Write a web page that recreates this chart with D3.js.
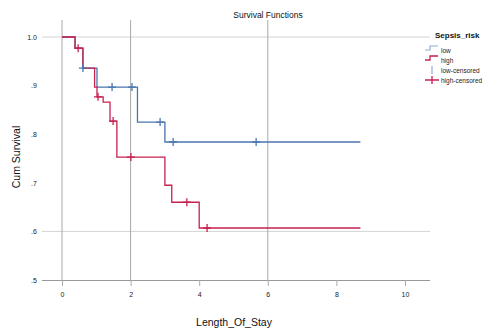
<!DOCTYPE html>
<html>
<head>
<meta charset="utf-8">
<script src="https://cdn.jsdelivr.net/npm/d3@7"></script>
<style>
  body { margin: 0; background: #fff; }
  text { font-family: "Liberation Sans", Arial, sans-serif; }
</style>
</head>
<body>
<div class="chart"></div>
<script>
// step curves: [time, cumulative survival]
var lowSteps = [[0, 1.0], [0.38, 0.977], [0.61, 0.936], [1.02, 0.897], [2.2, 0.825], [3.0, 0.784], [8.7, 0.784]];
var highSteps = [[0, 1.0], [0.38, 0.977], [0.61, 0.936], [0.95, 0.897], [1.02, 0.877], [1.2, 0.866], [1.4, 0.827], [1.6, 0.753], [3.0, 0.695], [3.2, 0.66], [4.0, 0.607], [8.7, 0.607]];
var lowCensored = [[0.61, 0.936], [1.46, 0.897], [2.04, 0.897], [2.86, 0.825], [3.24, 0.784], [5.66, 0.784]];
var highCensored = [[0.47, 0.977], [1.05, 0.877], [1.49, 0.827], [2.01, 0.753], [3.64, 0.66], [4.23, 0.607]];
var xTicks = [0, 2, 4, 6, 8, 10];
var yTicks = [1.0, 0.9, 0.8, 0.7, 0.6, 0.5];
var refX = [0, 2, 6];
var refY = [1.0, 0.6];
var legendLabels = ["low", "high", "low-censored", "high-censored"];

var width = 498, height = 334;
var blue = "#4a76b0", red = "#c8204f";

var svg = d3.select(".chart").append("svg")
  .attr("width", width)
  .attr("height", height);

var xScale = d3.scaleLinear().domain([0, 10]).range([62, 405]);
var yScale = d3.scaleLinear().domain([0.5, 1.0]).range([280, 37]);

// reference lines
svg.selectAll(".refy").data(refY).enter().append("line")
  .attr("x1", 42).attr("x2", 430)
  .attr("y1", d => yScale(d)).attr("y2", d => yScale(d))
  .attr("stroke", "#d4d4d4").attr("stroke-width", 1);

svg.selectAll(".refx").data(refX).enter().append("line")
  .attr("x1", d => xScale(d)).attr("x2", d => xScale(d))
  .attr("y1", 20).attr("y2", 280)
  .attr("stroke", "#a8a8a8").attr("stroke-width", 1);

// axes
var xAxis = svg.append("g")
  .attr("transform", "translate(0,280)")
  .call(d3.axisBottom(xScale).tickValues(xTicks).tickSize(6).tickFormat(d3.format("d")));
xAxis.select(".domain").attr("d", "M42,0.5H430").attr("stroke", "#999");
xAxis.selectAll(".tick line").attr("stroke", "#aaa");
xAxis.selectAll("text").attr("font-size", 7).attr("fill", "#222").attr("dy", "1.2em");

var yAxis = svg.append("g")
  .attr("transform", "translate(42,0)")
  .call(d3.axisLeft(yScale).tickValues(yTicks).tickSize(0)
    .tickFormat(d => d === 1 ? "1.0" : d3.format(".1f")(d).replace(/^0/, "")));
yAxis.select(".domain").remove();
yAxis.selectAll("text").attr("font-size", 7).attr("fill", "#222").attr("dx", "-0.3em");

// curves
var step = d3.line()
  .x(d => xScale(d[0]))
  .y(d => yScale(d[1]))
  .curve(d3.curveStepAfter);

svg.append("path").datum(lowSteps)
  .attr("d", step).attr("fill", "none").attr("stroke", blue).attr("stroke-width", 1.3);
svg.append("path").datum(highSteps)
  .attr("d", step).attr("fill", "none").attr("stroke", red).attr("stroke-width", 1.3);

function cross(sel, color) {
  sel.append("path")
    .attr("d", "M-4,0H4M0,-4V4")
    .attr("stroke", color).attr("stroke-width", 1.3);
}
svg.selectAll(".lc").data(lowCensored).enter().append("g")
  .attr("transform", d => "translate(" + xScale(d[0]) + "," + yScale(d[1]) + ")")
  .call(cross, blue);
svg.selectAll(".hc").data(highCensored).enter().append("g")
  .attr("transform", d => "translate(" + xScale(d[0]) + "," + yScale(d[1]) + ")")
  .call(cross, red);

// titles
svg.append("text").attr("x", 268).attr("y", 18).attr("text-anchor", "middle")
  .attr("font-size", 8.5).attr("fill", "#111").text("Survival Functions");
svg.append("text").attr("x", 234).attr("y", 326).attr("text-anchor", "middle")
  .attr("font-size", 10.5).attr("fill", "#111").text("Length_Of_Stay");
svg.append("text").attr("transform", "translate(20,157) rotate(-90)").attr("text-anchor", "middle")
  .attr("font-size", 10.5).attr("fill", "#111").text("Cum Survival");

// legend
var lg = svg.append("g").attr("transform", "translate(425,0)");
lg.append("text").attr("x", 10).attr("y", 38).attr("font-size", 8).attr("font-weight", "bold")
  .attr("fill", "#111").text("Sepsis_risk");
var rowY = [50, 60, 70, 80];
lg.selectAll(".lt").data(legendLabels).enter().append("text")
  .attr("x", 16).attr("y", (d, i) => rowY[i] + 2.5)
  .attr("font-size", 6.5).attr("fill", "#222").text(d => d);
lg.append("path").attr("d", "M0," + (rowY[0]) + "H5V" + (rowY[0] - 4) + "H13")
  .attr("fill", "none").attr("stroke", blue).attr("stroke-width", 1.2).attr("opacity", 0.6);
lg.append("path").attr("d", "M0," + (rowY[1]) + "H5V" + (rowY[1] - 4) + "H13")
  .attr("fill", "none").attr("stroke", red).attr("stroke-width", 1.3);
lg.append("path").attr("d", "M7," + (rowY[2] - 4) + "V" + (rowY[2] + 4))
  .attr("stroke", blue).attr("stroke-width", 1.2).attr("opacity", 0.6);
lg.append("path").attr("d", "M0," + rowY[3] + "H14M7," + (rowY[3] - 4) + "V" + (rowY[3] + 4))
  .attr("stroke", red).attr("stroke-width", 1.3);
</script>
</body>
</html>
